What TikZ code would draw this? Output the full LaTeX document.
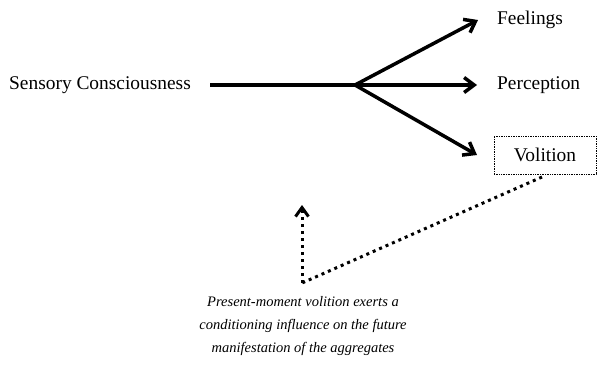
\documentclass[tikz,border=0pt]{standalone}
\usepackage{fontspec}
\setmainfont{Liberation Serif}
\usetikzlibrary{arrows.meta}
\begin{document}
\begin{tikzpicture}[x=1pt,y=-1pt,
  lbl/.style={font=\fontsize{19.4}{22}\selectfont, inner sep=0pt},
  thickarrow/.style={line width=3.5pt, -{Straight Barb[length=10pt,width=15pt,line width=3.5pt]}},
  dotline/.style={line width=3pt, dash pattern=on 3pt off 4pt},
  captext/.style={font=\fontsize{14.5}{23}\selectfont\itshape, align=center, inner sep=0pt}]
\useasboundingbox (0,0) rectangle (597,370);
\node[lbl, anchor=west] (sc) at (9,85) {Sensory Consciousness};
\coordinate (start) at (210,85);
\coordinate (hub) at (355,85);
\node[lbl, anchor=west] (fe) at (497,20) {Feelings};
\node[lbl, anchor=west] (pe) at (497,85) {Perception};
\node[lbl, draw, densely dotted, line width=0.7pt, minimum width=102pt, minimum height=38pt] (vo) at (545,155) {Volition};
\coordinate (ftip) at (478,20);
\coordinate (ptip) at (477,85);
\coordinate (vtip) at (477,155);
\draw[line width=3.5pt] (start) -- (hub);
\draw[thickarrow] (hub) -- (ftip);
\draw[thickarrow] (hub) -- (ptip);
\draw[thickarrow] (hub) -- (vtip);
\coordinate (vstart) at (542,177);
\coordinate (corner) at (302,283);
\coordinate (uptip) at (302,205);
\draw[dotline] (vstart) -- (corner);
\draw[dotline, -{Straight Barb[length=9pt,width=13pt,line width=3pt]}] (corner) -- (uptip);
\node[captext] (caption) at (303,326) {Present-moment volition exerts a\\conditioning influence on the future\\manifestation of the aggregates};
\end{tikzpicture}
\end{document}
